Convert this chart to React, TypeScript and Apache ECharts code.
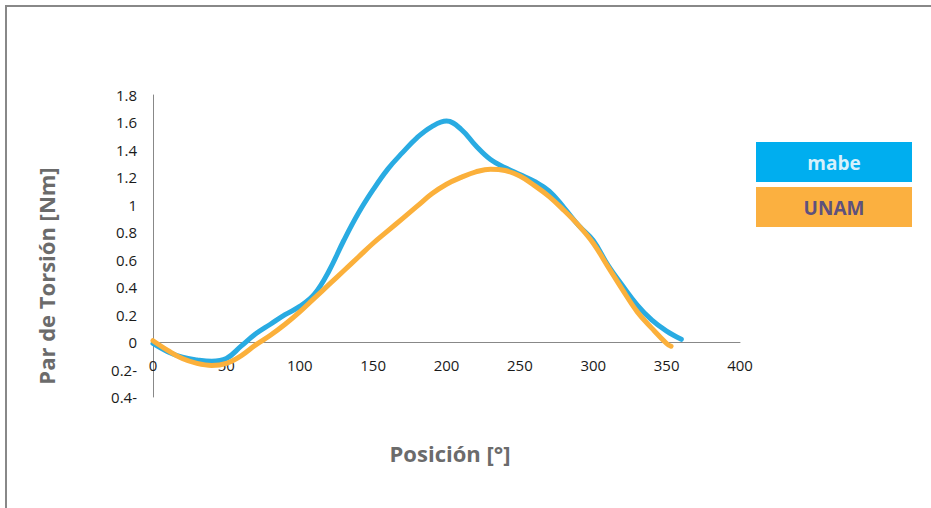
import React, { useEffect, useRef } from "react";
import * as echarts from "echarts";

const mabeX = [0,10,20,30,40,50,60,70,80,90,100,110,120,130,140,150,160,170,180,190,200,210,220,230,240,250,260,270,280,290,300,310,320,330,340,350,360];
const mabeY = [-0.01,-0.07,-0.11,-0.13,-0.14,-0.12,-0.03,0.06,0.13,0.2,0.26,0.35,0.52,0.74,0.94,1.11,1.26,1.38,1.49,1.57,1.61,1.55,1.43,1.33,1.27,1.22,1.17,1.1,0.98,0.85,0.74,0.56,0.41,0.27,0.16,0.08,0.02];
const unamX = [0,10,20,30,40,50,60,70,80,90,100,110,120,130,140,150,160,170,180,190,200,210,220,230,240,250,260,270,280,290,300,310,320,330,340,350,353];
const unamY = [0.01,-0.06,-0.12,-0.155,-0.17,-0.155,-0.1,-0.02,0.05,0.13,0.22,0.32,0.42,0.52,0.62,0.72,0.81,0.9,0.99,1.08,1.15,1.2,1.24,1.26,1.25,1.21,1.14,1.06,0.96,0.85,0.72,0.55,0.38,0.22,0.1,-0.01,-0.03];
const seriesNames = ["mabe", "UNAM"];
const colors = ["#29ABE2", "#FBB03B"];

export default function App() {
  const ref = useRef<HTMLDivElement>(null);
  useEffect(() => {
    const chart = echarts.init(ref.current!, null, { renderer: "svg" });
    const fmtY = (v: number) => {
      const r = Math.round(v * 10) / 10;
      if (r < 0) return String(Math.abs(r)) + "-";
      return String(r);
    };
    chart.setOption({
      animation: false,
      grid: { left: 153, top: 95, width: 587, height: 302 },
      xAxis: {
        type: "value", min: 0, max: 400, interval: 50,
        axisLine: { onZero: true, lineStyle: { color: "#888", width: 1 } },
        axisTick: { show: false },
        splitLine: { show: false },
        axisLabel: { color: "#1a1a1a", fontSize: 15, fontFamily: "Open Sans", margin: -40 },
      },
      yAxis: {
        type: "value", min: -0.4, max: 1.8, interval: 0.2,
        axisLine: { show: true, onZero: false, lineStyle: { color: "#888", width: 1 } },
        axisTick: { show: false },
        splitLine: { show: false },
        axisLabel: { color: "#1a1a1a", fontSize: 15, fontFamily: "Open Sans", margin: 16, formatter: fmtY },
      },
      series: [
        {
          name: seriesNames[0], type: "line", smooth: 0.4, showSymbol: false,
          data: mabeX.map((x, i) => [x, mabeY[i]]),
          lineStyle: { color: colors[0], width: 5, cap: "round" },
          itemStyle: { color: colors[0] },
        },
        {
          name: seriesNames[1], type: "line", smooth: 0.4, showSymbol: false,
          data: unamX.map((x, i) => [x, unamY[i]]),
          lineStyle: { color: colors[1], width: 5, cap: "round" },
          itemStyle: { color: colors[1] },
        },
      ],
      graphic: [
        { type: "rect", shape: { x: 5, y: 5, width: 926, height: 2 }, style: { fill: "#888" }, silent: true },
        { type: "rect", shape: { x: 5, y: 5, width: 2, height: 503 }, style: { fill: "#888" }, silent: true },
        {
          type: "text", x: 46, y: 276, rotation: Math.PI / 2,
          style: { text: "Par de Torsión [Nm]", fill: "#6b6b6b", font: "bold 22px 'Open Sans'", align: "center", verticalAlign: "middle" },
        },
        {
          type: "text", x: 450, y: 453,
          style: { text: "Posición [°]", fill: "#6b6b6b", font: "bold 22px 'Open Sans'", align: "center", verticalAlign: "middle" },
        },
        { type: "rect", shape: { x: 756, y: 142, width: 156, height: 40 }, style: { fill: "#00AEEF" } },
        {
          type: "text", x: 834, y: 163,
          style: { text: seriesNames[0], fill: "#D6F1FC", font: "bold 19px 'Open Sans'", align: "center", verticalAlign: "middle" },
        },
        { type: "rect", shape: { x: 756, y: 187, width: 156, height: 40 }, style: { fill: "#FBB040" } },
        {
          type: "text", x: 834, y: 208,
          style: { text: seriesNames[1], fill: "#5E517D", font: "bold 19px 'Open Sans'", align: "center", verticalAlign: "middle" },
        },
      ],
    });
    return () => chart.dispose();
  }, []);
  return <div ref={ref} style={{ position: "absolute", left: 0, top: 0, width: 931, height: 508 }} />;
}
